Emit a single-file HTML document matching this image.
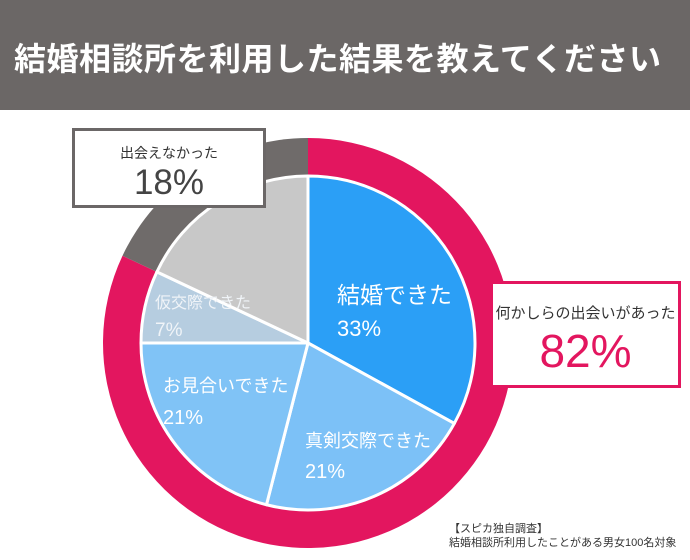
<!DOCTYPE html>
<html><head><meta charset="utf-8">
<style>
body{margin:0;width:690px;height:560px;background:#fff;overflow:hidden;position:relative;font-family:"Liberation Sans","Noto Sans CJK JP",sans-serif}
#hdr{position:absolute;left:0;top:0;width:690px;height:110px;background:#6b6766}
#hdr h1{margin:0;position:absolute;left:14px;top:34px;color:#fff;font-size:32px;font-weight:bold;letter-spacing:0.5px;white-space:nowrap}
.box{position:absolute;background:#fff;box-sizing:border-box;text-align:center}
.t{position:absolute;color:#fff;white-space:nowrap}
</style></head><body>
<div id="hdr"><h1>結婚相談所を利用した結果を教えてください</h1></div>
<svg id="chart" width="690" height="560" style="position:absolute;left:0;top:0"></svg>
<div class="t" style="left:337px;top:276px;font-size:23px">結婚できた<br><span style="line-height:38px;font-size:22px">33%</span></div>
<div class="t" style="left:305px;top:426px;font-size:18px;line-height:31px">真剣交際できた<br><span style="font-size:20px">21%</span></div>
<div class="t" style="left:163px;top:370px;font-size:18px;line-height:32px">お見合いできた<br><span style="font-size:20px">21%</span></div>
<div class="t" style="left:155px;top:290px;font-size:16px;line-height:27px;color:#f0f4f8">仮交際できた<br><span style="font-size:19px">7%</span></div>
<div class="box" style="left:72px;top:128px;width:194px;height:80px;border:3px solid #6b6767">
<div style="font-size:14px;color:#333;margin-top:12px">出会えなかった</div>
<div style="font-size:35px;color:#444;line-height:40px">18%</div></div>
<div class="box" style="left:490px;top:281px;width:191px;height:107px;border:3px solid #e3165f">
<div style="font-size:15px;color:#333;margin-top:18px">何かしらの出会いがあった</div>
<div style="font-size:46px;color:#e3165f;line-height:56px">82%</div></div>
<div class="t" style="left:449px;top:522px;font-size:11px;color:#333;line-height:14px">【スピカ独自調査】<br>結婚相談所利用したことがある男女100名対象</div>
<script>
const ringCategories=["出会いがあった","出会えなかった"];
const ringValues=[82,18];
const pieCategories=["結婚できた","真剣交際できた","お見合いできた","仮交際できた","出会えなかった"];
const pieValues=[33,21,21,7,18];
const ringColors=["#e3165f","#6f6b6a"];
const pieColors=["#2b9ff6","#7cc1f7","#80c3f6","#b6cde0","#c8c8c8"];
const cx=308,cy=343,R=205,r=167;
const svg=document.getElementById('chart');
const NS="http://www.w3.org/2000/svg";
function pt(a,rad){return [cx+rad*Math.sin(a),cy-rad*Math.cos(a)];}
function angleScale(v,total){return v/total*2*Math.PI;}
function wedge(a0,a1,rad){const p0=pt(a0,rad),p1=pt(a1,rad);const lg=(a1-a0)>Math.PI?1:0;
return `M${cx},${cy}L${p0[0]},${p0[1]}A${rad},${rad} 0 ${lg} 1 ${p1[0]},${p1[1]}Z`;}
let tot=ringValues.reduce((a,b)=>a+b,0),a=0;
ringValues.forEach((v,i)=>{const a1=a+angleScale(v,tot);const p=document.createElementNS(NS,'path');
p.setAttribute('d',wedge(a,a1,R));p.setAttribute('fill',ringColors[i]);


svg.appendChild(p);a=a1;});
const c=document.createElementNS(NS,'circle');c.setAttribute('cx',cx);c.setAttribute('cy',cy);c.setAttribute('r',r+1);c.setAttribute('fill','#fff');


svg.appendChild(c);
tot=pieValues.reduce((a,b)=>a+b,0);a=0;
pieValues.forEach((v,i)=>{const a1=a+angleScale(v,tot);const p=document.createElementNS(NS,'path');
p.setAttribute('d',wedge(a,a1,r));p.setAttribute('fill',pieColors[i]);p.setAttribute('stroke','#fff');p.setAttribute('stroke-width','3');p.setAttribute('stroke-linejoin','round');


svg.appendChild(p);a=a1;});
</script>
</body></html>
